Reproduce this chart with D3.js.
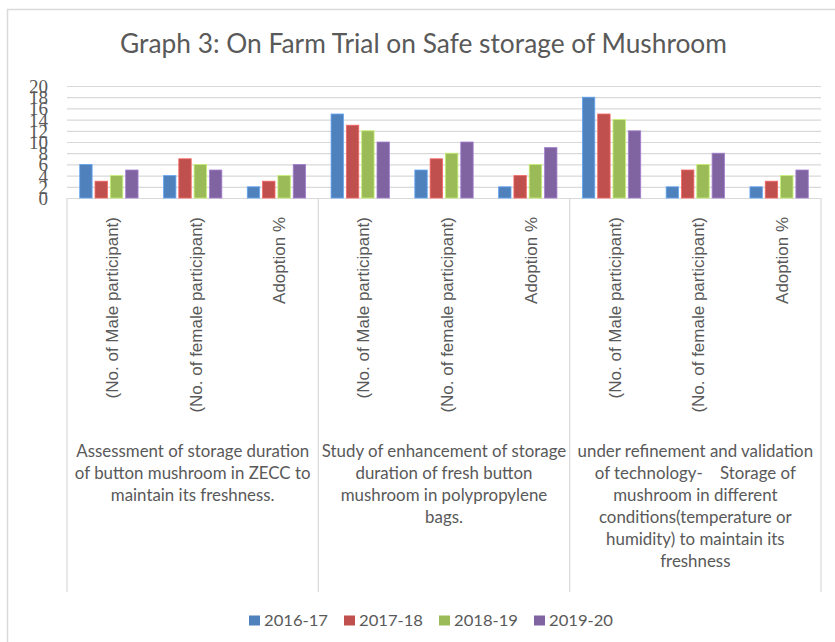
<!DOCTYPE html>
<html>
<head>
<meta charset="utf-8">
<script src="https://cdn.jsdelivr.net/npm/d3@7"></script>
<style>
  body { margin: 0; background: #fff; }
  svg { display: block; }
  text { fill: #595959; }
</style>
</head>
<body>
<svg width="835" height="642"></svg>
<script>
// data
var groups = [
  ["Assessment of storage duration", "of button mushroom in ZECC to", "maintain its freshness."],
  ["Study of enhancement of storage", "duration of fresh button", "mushroom in polypropylene", "bags."],
  ["under refinement and validation", "of technology-    Storage of", "mushroom in different", "conditions(temperature or", "humidity) to maintain its", "freshness"]
]
var subLabels = ["(No. of Male participant)", "(No. of female participant)", "Adoption %"]
var seriesNames = ["2016-17", "2017-18", "2018-19", "2019-20"]
var v201617 = [6, 4, 2, 15, 5, 2, 18, 2, 2]
var v201718 = [3, 7, 3, 13, 7, 4, 15, 5, 3]
var v201819 = [4, 6, 4, 12, 8, 6, 14, 6, 4]
var v201920 = [5, 5, 6, 10, 10, 9, 12, 8, 5]
var yTicks = [0, 2, 4, 6, 8, 10, 12, 14, 16, 18, 20]
var colors = ["#4F81BD", "#C0504D", "#9BBB59", "#8064A2"]

var series = [v201617, v201718, v201819, v201920]

var svg = d3.select("svg")
var calibri = "Lato, 'Open Sans', sans-serif"

// outer frame
svg.append("rect")
  .attr("x", 7.5).attr("y", 9.5)
  .attr("width", 840).attr("height", 640)
  .attr("fill", "none")
  .attr("stroke", "#d9d9d9")
  .attr("stroke-width", 1.5)

// plot area (window.top is taken, so plotTop)
var plotLeft = 67, plotRight = 821, plotTop = 86, plotBottom = 198

// one slot per sub category
var slots = []
groups.forEach(function(g, gi) {
  subLabels.forEach(function(s, si) { slots.push(gi * subLabels.length + si) })
})

var x0 = d3.scaleBand().domain(slots).range([plotLeft, plotRight]).padding(0)
var x1 = d3.scaleBand().domain(d3.range(series.length))
  .range([0, x0.bandwidth()])
  .paddingInner(0.19)
  .paddingOuter(0.83)
var y = d3.scaleLinear().domain([0, 20]).range([plotBottom, plotTop])

// gridlines + tick labels
var yAxis = svg.append("g")
  .attr("transform", "translate(" + plotLeft + ",0)")
  .call(d3.axisLeft(y).tickValues(yTicks).tickSizeInner(-(plotRight - plotLeft)).tickSizeOuter(0).tickPadding(19))
yAxis.select(".domain").remove()
yAxis.selectAll(".tick line").attr("stroke", "#d9d9d9").attr("stroke-width", 1.2)
yAxis.selectAll(".tick text")
  .attr("fill", "#595959")
  .style("font-family", "'Liberation Serif', serif")
  .style("font-size", "19px")
  .attr("dy", "0.34em")

// group separators
var bounds = d3.range(groups.length + 1).map(function(i) {
  return i < groups.length ? x0(i * subLabels.length) : plotRight
})
svg.append("g").selectAll("line")
  .data(bounds)
  .join("line")
  .attr("x1", function(d) { return d }).attr("x2", function(d) { return d })
  .attr("y1", plotBottom).attr("y2", 592)
  .attr("stroke", "#d9d9d9")
  .attr("stroke-width", 1.2)

// bars
var bars = svg.append("g")
series.forEach(function(vals, si) {
  bars.append("g").selectAll("rect")
    .data(vals)
    .join("rect")
    .attr("x", function(d, i) { return x0(i) + x1(si) })
    .attr("width", x1.bandwidth())
    .attr("y", function(d) { return y(d) })
    .attr("height", function(d) { return y(0) - y(d) })
    .attr("fill", colors[si])
    .attr("stroke", d3.color(colors[si]).brighter(0.7))
    .attr("stroke-width", 0.8)
})

// rotated sub category labels
svg.append("g").selectAll("text")
  .data(slots)
  .join("text")
  .attr("transform", function(d) {
    return "translate(" + (x0(d) + x0.bandwidth() / 2 + 9) + ",217) rotate(-90)"
  })
  .attr("text-anchor", "end")
  .style("font-family", "'Liberation Sans', Arial, sans-serif")
  .style("font-size", "17px")
  .text(function(d) { return subLabels[d % subLabels.length] })

// group labels, squeezed to the narrow Calibri look
var catG = svg.append("g")
var probe = catG.append("text").style("font-family", calibri).style("font-size", "18px").text(groups[0][0])
var catScale = 233 / probe.node().getComputedTextLength()
probe.remove()

groups.forEach(function(lines, gi) {
  var cx = (bounds[gi] + bounds[gi + 1]) / 2
  var g = catG.append("g")
    .attr("transform", "translate(" + cx + ",0) scale(" + catScale + ",1)")
  g.selectAll("text")
    .data(lines)
    .join("text")
    .attr("x", 0)
    .attr("y", function(d, i) { return 457 + i * 22 })
    .attr("text-anchor", "middle")
    .style("font-family", calibri)
    .style("font-size", "18px")
    .style("white-space", "pre")
    .text(function(d) { return d })
})

// title
var title = svg.append("text")
  .attr("text-anchor", "middle")
  .style("font-family", calibri)
  .style("font-size", "26px")
  .text("Graph 3: On Farm Trial on Safe storage of Mushroom")
var tw = title.node().getComputedTextLength()
title.attr("transform", "translate(423.5,53) scale(" + (607 / tw) + ",1)")

// legend
var legend = svg.append("g")
seriesNames.forEach(function(name, i) {
  var lx = 249 + i * 95
  legend.append("rect")
    .attr("x", lx).attr("y", 615.5)
    .attr("width", 11).attr("height", 10)
    .attr("fill", colors[i])
  var t = legend.append("text")
    .style("font-family", calibri)
    .style("font-size", "16px")
    .text(name)
  var w = t.node().getComputedTextLength()
  t.attr("transform", "translate(" + (lx + 15) + ",625.5) scale(" + (64 / w) + ",1)")
})
</script>
</body>
</html>
